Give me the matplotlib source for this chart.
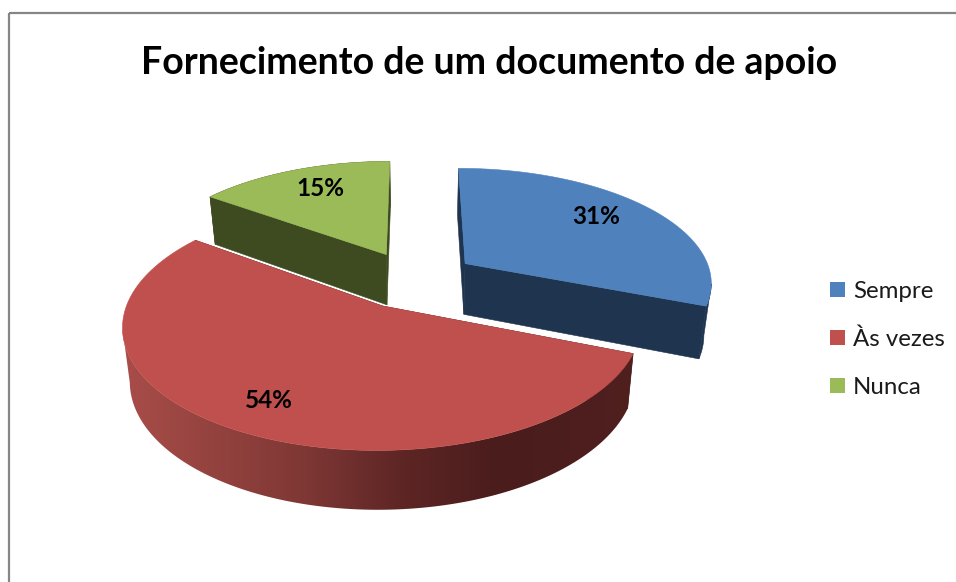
import numpy as np
import matplotlib
matplotlib.use("Agg")
import matplotlib.pyplot as plt
from matplotlib.patches import Polygon, Rectangle

plt.rcParams["font.family"] = ["Lato", "DejaVu Sans"]

# Data
labels = ["Sempre", "Às vezes", "Nunca"]
values = [31, 54, 15]
pct_labels = ["31%", "54%", "15%"]

# Style
top_colors = ["#4F81BD", "#C0504D", "#9BBB59"]
wall_colors = ["#1F344F", "#4A1D1C", "#3E4A20"]
label_pos = [(596, 217), (269, 401), (320, 188)]
legend_base = [298, 346, 394]
draw_order = [2, 0, 1]  # back to front

# Projection of the tilted pie, in pixels
CX, CY = 414, 279.6
RX, RY = 247.5, 114
PERSP = 0.15
DEPTH = 51.5
SHRINK = 0.975
EXPLODE = 0.255

# red side wall shading: x pixel -> colour
shade_x = [125, 300, 400, 500, 640]
shade_rgb = np.array([[0xA8, 0x4D, 0x49], [0x80, 0x38, 0x35], [0x5E, 0x26, 0x25],
                      [0x4A, 0x1C, 0x1C], [0x50, 0x20, 0x1F]]) / 255


def project(x, y, z=0.0):
    w = 1 + PERSP * y
    k = 1 - (1 - SHRINK) * z
    return CX + RX * x / w * k, CY - RY * y / w + DEPTH * z / w ** 0.7


fig = plt.figure(figsize=(9.56, 5.82), dpi=100)
ax = fig.add_axes([0, 0, 1, 1])

# chart frame, runs off the right and bottom edge
ax.add_patch(Rectangle((9, 13), 1000, 700, fill=False, ec="#868686", lw=1.6, zorder=0))

fracs = np.cumsum([0] + values) / sum(values)
z = 1
for i in draw_order:
    a0, a1 = 2 * np.pi * fracs[i], 2 * np.pi * fracs[i + 1]
    mid = (a0 + a1) / 2
    ox, oy = EXPLODE * np.sin(mid), EXPLODE * np.cos(mid)
    th = np.linspace(a0, a1, 160)
    rx, ry = ox + np.sin(th), oy + np.cos(th)

    # cut faces
    for a in (a0, a1):
        ex, ey = ox + np.sin(a), oy + np.cos(a)
        quad = [project(ox, oy), project(ex, ey), project(ex, ey, 1), project(ox, oy, 1)]
        ax.add_patch(Polygon(quad, fc=wall_colors[i], ec=wall_colors[i], lw=0.4, zorder=z))
    z += 1

    # outer wall, only the part that faces the viewer so the silhouette stays straight
    tx, ty = project(rx, ry)
    bx, by = project(rx, ry, 1)
    if i == 0:
        t0, b0 = np.argmax(tx), np.argmax(bx)
        wall = list(zip(tx[t0:], ty[t0:])) + list(zip(bx[b0:][::-1], by[b0:][::-1]))
    elif i == 1:
        t0, b0 = np.argmin(tx), np.argmin(bx)
        wall = list(zip(tx[:t0 + 1], ty[:t0 + 1])) + list(zip(bx[:b0 + 1][::-1], by[:b0 + 1][::-1]))
    else:
        wall = list(zip(tx, ty)) + list(zip(bx[::-1], by[::-1]))
    if i == 1:
        # only the red slice has the horizontal shading
        outline = Polygon(wall, fc="none", ec="none", zorder=z)
        ax.add_patch(outline)
        xs = np.arange(100, 660)
        grad = np.column_stack([np.interp(xs, shade_x, shade_rgb[:, c]) for c in range(3)])
        img = ax.imshow(grad[np.newaxis, :, :], extent=(100, 660, 530, 300), aspect="auto",
                        interpolation="bilinear", zorder=z)
        img.set_clip_path(outline)
    else:
        ax.add_patch(Polygon(wall, fc=wall_colors[i], ec=wall_colors[i], lw=0.4, zorder=z))
    z += 1

    # top face
    ax0, ay0 = project(ox, oy)
    top = [(ax0, ay0)] + list(zip(tx, ty))
    ax.add_patch(Polygon(top, fc=top_colors[i], ec=top_colors[i], lw=0.4, zorder=z))
    z += 1

ax.set_xlim(0, 956)
ax.set_ylim(582, 0)
ax.axis("off")

for txt, (px, py) in zip(pct_labels, label_pos):
    ax.text(px, py, txt, ha="center", va="center", fontsize=17.5, fontweight="bold",
            color="black", zorder=50)

ax.text(489, 63, "Fornecimento de um documento de apoio", ha="center", va="center",
        fontsize=27, fontweight="bold", color="black")

# legend drawn by hand, row pitch is fixed in the reference
for name, col, base in zip(labels, top_colors, legend_base):
    ax.add_patch(Rectangle((830, base - 16), 15, 15, fc=col, ec="none"))
    ax.text(853, base, name, ha="left", va="baseline", fontsize=17.3, color="#1a1a1a")

fig.savefig("out.png", dpi=100, facecolor="white")
